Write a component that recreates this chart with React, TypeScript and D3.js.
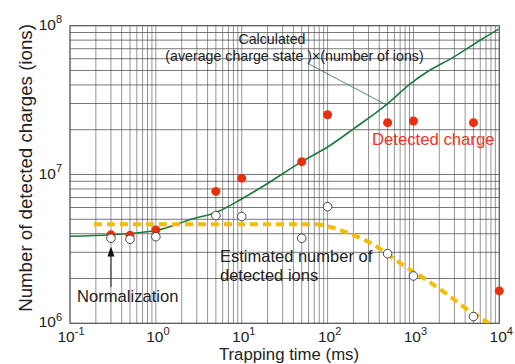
import { useRef, useEffect } from "react";
import * as d3 from "d3";

// trapping time (ms) of each measurement
const trapTimes = [0.3, 0.5, 1, 5, 10, 50, 100, 500, 1000, 5000, 10000];
// detected charge (filled red dots)
const detectedCharge = [3.93e6, 3.9e6, 4.24e6, 7.7e6, 9.45e6, 1.22e7, 2.52e7, 2.23e7, 2.29e7, 2.23e7, 1.65e6];
// estimated number of detected ions (open circles)
const ionTimes = [0.3, 0.5, 1, 5, 10, 50, 100, 500, 1000, 5000];
const estimatedIons = [3.73e6, 3.67e6, 3.82e6, 5.3e6, 5.22e6, 3.73e6, 6.08e6, 2.94e6, 2.08e6, 1.11e6];

// calculated curve: (average charge state) x (number of ions)
const calcTimes = [0.1, 0.3, 1, 2.7, 5, 10, 20, 50, 100, 206, 482, 940, 1466, 3000, 6120, 9800];
const calcCharge = [3.85e6, 3.94e6, 4.2e6, 5.05e6, 5.55e6, 6.85e6, 8.7e6, 1.22e7, 1.53e7, 2.05e7, 2.94e7, 4.11e7, 4.92e7, 6.2e7, 8.05e7, 9.49e7];

// estimated number of detected ions (dashed curve)
const estTimes = [0.19, 70, 113, 158, 322, 752, 1535, 2860, 3917, 6700, 8500];
const estLine = [4.63e6, 4.63e6, 4.4e6, 4.13e6, 3.45e6, 2.47e6, 1.9e6, 1.47e6, 1.28e6, 1.05e6, 0.95e6];

const xTickExp = [-1, 0, 1, 2, 3, 4];
const yTickExp = [6, 7, 8];

const FONT = "'Liberation Sans', Arial, Helvetica, sans-serif";

export default function App() {
  const svgRef = useRef<SVGSVGElement>(null);

  useEffect(() => {
    const svg = d3.select(svgRef.current);
    svg.selectAll("*").remove();

    const width = 515;
    const height = 364;
    const margin = { top: 25.7, right: 15.7, bottom: 40.7, left: 70 };

    const x = d3.scaleLog().domain([0.1, 10000]).range([margin.left, width - margin.right]);
    const y = d3.scaleLog().domain([1e6, 1e8]).range([height - margin.bottom, margin.top]);

    const [x0, x1] = x.range();
    const [yb, yt] = y.range();

    svg.append("rect").attr("width", width).attr("height", height).attr("fill", "#fff");

    // minor + major grid
    const xGrid: number[] = [];
    for (let e = -1; e < 4; e++) for (let m = 1; m < 10; m++) xGrid.push(m * Math.pow(10, e));
    xGrid.push(10000);
    const yGrid: number[] = [];
    for (let e = 6; e < 8; e++) for (let m = 1; m < 10; m++) yGrid.push(m * Math.pow(10, e));
    yGrid.push(1e8);

    const grid = svg.append("g").attr("stroke-width", 0.8);
    grid.selectAll("line.v")
      .data(xGrid)
      .join("line")
      .attr("class", "v")
      .attr("stroke", "#7a7a7a")
      .attr("x1", d => x(d)).attr("x2", d => x(d))
      .attr("y1", yt).attr("y2", yb);
    grid.selectAll("line.h")
      .data(yGrid)
      .join("line")
      .attr("class", "h")
      .attr("stroke", "#555")
      .attr("y1", d => y(d)).attr("y2", d => y(d))
      .attr("x1", x0).attr("x2", x1);

    svg.append("rect")
      .attr("x", x0).attr("y", yt)
      .attr("width", x1 - x0).attr("height", yb - yt)
      .attr("fill", "none").attr("stroke", "#555").attr("stroke-width", 1);

    svg.append("clipPath").attr("id", "plotClip")
      .append("rect")
      .attr("x", x0).attr("y", yt)
      .attr("width", x1 - x0).attr("height", yb - yt);

    const line = d3.line<[number, number]>()
      .x(d => x(d[0]))
      .y(d => y(d[1]))
      .curve(d3.curveMonotoneX);

    // Calculated curve
    svg.append("path")
      .datum(calcTimes.map((t, i) => [t, calcCharge[i]] as [number, number]))
      .attr("d", line)
      .attr("fill", "none")
      .attr("stroke", "#1d7a3c")
      .attr("stroke-width", 1.6);

    // Estimated ions (dashed)
    svg.append("path")
      .datum(estTimes.map((t, i) => [t, estLine[i]] as [number, number]))
      .attr("d", line)
      .attr("clip-path", "url(#plotClip)")
      .attr("fill", "none")
      .attr("stroke", "#f5bd00")
      .attr("stroke-width", 4)
      .attr("stroke-dasharray", "8,5");

    // Detected charge dots
    svg.append("g")
      .selectAll("circle")
      .data(trapTimes)
      .join("circle")
      .attr("cx", d => x(d))
      .attr("cy", (d, i) => y(detectedCharge[i]))
      .attr("r", 4.5)
      .attr("fill", "#e8300e");

    // Estimated ions circles
    svg.append("g")
      .selectAll("circle")
      .data(ionTimes)
      .join("circle")
      .attr("cx", d => x(d))
      .attr("cy", (d, i) => y(estimatedIons[i]))
      .attr("r", 4.3)
      .attr("fill", "#fff")
      .attr("stroke", "#333")
      .attr("stroke-width", 0.9);

    // Tick labels
    const tl = svg.append("g").attr("font-family", FONT).attr("fill", "#222");
    xTickExp.forEach(e => {
      const t = tl.append("text")
        .attr("x", x(Math.pow(10, e)) + (e < 0 ? 1 : 2))
        .attr("y", yb + 18.3)
        .attr("text-anchor", "middle")
        .attr("font-size", 15.5);
      t.append("tspan").text("10");
      t.append("tspan").attr("font-size", 11).attr("dy", -6.5).text(String(e));
    });
    yTickExp.forEach(e => {
      const t = tl.append("text")
        .attr("x", x0 - 8)
        .attr("y", y(Math.pow(10, e)) + 4)
        .attr("text-anchor", "end")
        .attr("font-size", 15.5);
      t.append("tspan").text("10");
      t.append("tspan").attr("font-size", 11).attr("dy", -6.5).text(String(e));
    });

    // Axis titles
    svg.append("text")
      .attr("transform", "translate(31.5,168) rotate(-90)")
      .attr("text-anchor", "middle")
      .attr("font-family", FONT)
      .attr("font-size", 18.7)
      .attr("fill", "#222")
      .text("Number of detected charges (ions)");

    svg.append("text")
      .attr("x", 289)
      .attr("y", 360.2)
      .attr("text-anchor", "middle")
      .attr("font-family", FONT)
      .attr("font-size", 16.8)
      .attr("fill", "#222")
      .text("Trapping time (ms)");

    // Annotations
    const ann = svg.append("g").attr("font-family", FONT).attr("fill", "#222");
    ann.append("text").attr("x", 272).attr("y", 43.5).attr("text-anchor", "middle")
      .attr("font-size", 14.2).text("Calculated");
    ann.append("text").attr("x", 294.5).attr("y", 60.5).attr("text-anchor", "middle")
      .attr("font-size", 14.2).text("(average charge state )\u00d7(number of ions)");
    svg.append("line")
      .attr("x1", 308).attr("y1", 63.5)
      .attr("x2", x(482)).attr("y2", y(2.94e7))
      .attr("stroke", "#1d7a3c").attr("stroke-width", 0.8);

    svg.append("text")
      .attr("x", 372).attr("y", 145)
      .attr("font-family", FONT).attr("font-size", 16.7)
      .attr("fill", "#e8391c")
      .text("Detected charge");

    ann.append("text").attr("x", 220).attr("y", 262).attr("font-size", 16.5).text("Estimated number of");
    ann.append("text").attr("x", 220).attr("y", 280.5).attr("font-size", 16.5).text("detected ions");

    ann.append("text").attr("x", 77).attr("y", 302).attr("font-size", 16.6).text("Normalization");

    // Normalization arrow
    const ax = x(0.3);
    svg.append("line")
      .attr("x1", ax).attr("x2", ax)
      .attr("y1", 287).attr("y2", 254)
      .attr("stroke", "#222").attr("stroke-width", 1);
    svg.append("path")
      .attr("d", `M${ax},246.5 L${ax - 3.5},256.5 L${ax + 3.5},256.5 Z`)
      .attr("fill", "#111");
  }, []);

  return (
    <svg
      ref={svgRef}
      width={515}
      height={364}
      style={{ position: "absolute", left: 0, top: 0 }}
    />
  );
}
